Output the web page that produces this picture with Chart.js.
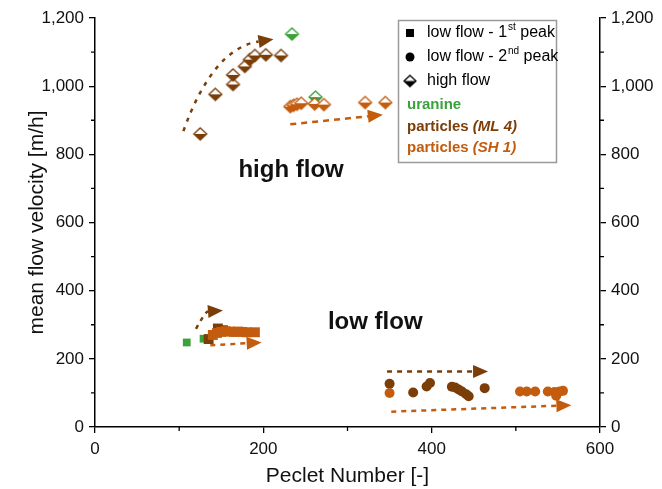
<!DOCTYPE html>
<html>
<head>
<meta charset="utf-8">
<script src="https://cdn.jsdelivr.net/npm/chart.js@4"></script>
<style>
  body { margin: 0; background: #fff; }
  canvas { display: block; }
</style>
</head>
<body>
<canvas id="c" width="662" height="489"></canvas>
<script>
// colours
const green = '#3aa23a';
const brown = '#7b3e08';
const orange = '#c45c0e';

// low flow, 1st peak (squares)
const lf1UraninePe = [109, 129];
const lf1UranineV = [248, 259];
const lf1ML4Pe = [135, 146, 152];
const lf1ML4V = [258, 289, 284];
const lf1SH1Pe = [140, 145, 150, 155, 160, 165, 170, 175, 180, 190];
const lf1SH1V = [270, 276, 279, 281, 280, 279, 280, 279, 278, 278];

// low flow, 2nd peak (circles)
const lf2ML4Pe = [350, 378, 394, 398, 424, 428, 432, 436, 441, 444, 463];
const lf2ML4V = [127, 101, 119, 129, 118, 116, 110, 104, 96, 90, 114];
const lf2SH1Pe = [350, 505, 513, 523, 538, 546, 548, 552, 556];
const lf2SH1V = [100, 104, 104, 104, 104, 103, 92, 104, 106];

// high flow (half filled diamonds)
const hfUraninePe = [234, 262];
const hfUranineV = [1153, 968];
const hfML4Pe = [125, 143, 164, 164, 178, 184, 190, 203, 221];
const hfML4V = [860, 976, 1005, 1033, 1058, 1078, 1090, 1092, 1090];
const hfSH1Pe = [232, 236, 240, 245, 261, 272, 321, 345];
const hfSH1V = [940, 944, 947, 950, 948, 946, 952, 952];

// trend arrows, in data units
const arrows = [
  {from: [105, 868], via: [140, 1110], to: [212, 1138], color: brown, dash: [4, 6]},
  {from: [232, 888], to: [342, 916], color: orange, dash: [6, 5]},
  {from: [120, 288], via: [131, 338], to: [152, 342], color: brown, dash: [4, 5]},
  {from: [137, 240], to: [198, 248], color: orange, dash: [5, 5]},
  {from: [347, 163], to: [467, 163], color: brown, dash: [5, 5]},
  {from: [352, 45], to: [566, 64], color: orange, dash: [5, 5]}
];

const notes = [
  {text: 'high flow', x: 233, y: 752},
  {text: 'low flow', x: 333, y: 307}
];

function pts(xs, ys) {
  return xs.map((x, i) => ({x: x, y: ys[i]}));
}

function halfDiamond(color, w, h) {
  const c = document.createElement('canvas');
  c.width = 2 * w + 4; c.height = 2 * h + 4;
  const g = c.getContext('2d');
  const cx = c.width / 2, cy = c.height / 2;
  const path = () => {
    g.beginPath();
    g.moveTo(cx, cy - h); g.lineTo(cx + w, cy); g.lineTo(cx, cy + h); g.lineTo(cx - w, cy);
    g.closePath();
  };
  path(); g.fillStyle = '#fff'; g.fill();
  g.beginPath();
  g.moveTo(cx - w, cy); g.lineTo(cx + w, cy); g.lineTo(cx, cy + h); g.closePath();
  g.fillStyle = color; g.fill();
  path(); g.strokeStyle = color; g.lineWidth = 1.3; g.stroke();
  return c;
}

function sq(label, data, color, r, order) {
  return {label, data, pointStyle: 'rect', pointRadius: r, backgroundColor: color, borderColor: color, borderWidth: 0, order};
}

const datasets = [
  sq('uranine 1st', pts(lf1UraninePe, lf1UranineV), green, 5.5, 5),
  sq('ML 4 1st', pts(lf1ML4Pe, lf1ML4V), brown, 7, 4),
  sq('SH 1 1st', pts(lf1SH1Pe, lf1SH1V), orange, 7, 3),
  {label: 'ML 4 2nd', data: pts(lf2ML4Pe, lf2ML4V), pointStyle: 'circle', pointRadius: 5, backgroundColor: brown, borderWidth: 0, order: 2},
  {label: 'SH 1 2nd', data: pts(lf2SH1Pe, lf2SH1V), pointStyle: 'circle', pointRadius: 5, backgroundColor: orange, borderWidth: 0, order: 1},
  {label: 'uranine high', data: pts(hfUraninePe, hfUranineV), pointStyle: halfDiamond(green, 6.5, 6), pointRadius: 6, order: 8},
  {label: 'ML 4 high', data: pts(hfML4Pe, hfML4V), pointStyle: halfDiamond(brown, 6.5, 6), pointRadius: 6, order: 7},
  {label: 'SH 1 high', data: pts(hfSH1Pe, hfSH1V), pointStyle: halfDiamond(orange, 6.5, 6), pointRadius: 6, order: 6}
];

const extras = {
  id: 'extras',
  afterDatasetsDraw(chart) {
    const ctx = chart.ctx, xs = chart.scales.x, ys = chart.scales.y;
    const px = p => [xs.getPixelForValue(p[0]), ys.getPixelForValue(p[1])];
    ctx.save();
    arrows.forEach(a => {
      const s = px(a.from), e = px(a.to);
      const c = a.via ? px(a.via) : s;
      let dx = e[0] - c[0], dy = e[1] - c[1];
      const len = Math.hypot(dx, dy); dx /= len; dy /= len;
      const L = 15, W = 6.5;
      const b = [e[0] - dx * L, e[1] - dy * L];
      ctx.strokeStyle = a.color; ctx.lineWidth = 2.5; ctx.setLineDash(a.dash);
      ctx.beginPath(); ctx.moveTo(s[0], s[1]);
      if (a.via) ctx.quadraticCurveTo(c[0], c[1], b[0], b[1]); else ctx.lineTo(b[0], b[1]);
      ctx.stroke();
      ctx.setLineDash([]);
      ctx.fillStyle = a.color;
      ctx.beginPath(); ctx.moveTo(e[0], e[1]);
      ctx.lineTo(b[0] - dy * W, b[1] + dx * W); ctx.lineTo(b[0] + dy * W, b[1] - dx * W);
      ctx.closePath(); ctx.fill();
    });
    ctx.fillStyle = '#111';
    ctx.font = 'bold 24px "Liberation Sans", Arial, sans-serif';
    ctx.textAlign = 'center'; ctx.textBaseline = 'middle';
    notes.forEach(n => { const p = px([n.x, n.y]); ctx.fillText(n.text, p[0], p[1]); });
    ctx.restore();
  },
  afterDraw(chart) {
    const ctx = chart.ctx, xs = chart.scales.x, ys = chart.scales.y, a = chart.chartArea;
    ctx.save();
    // minor ticks
    ctx.strokeStyle = '#000'; ctx.lineWidth = 1.3;
    ctx.beginPath();
    [100, 300, 500].forEach(v => { const x = xs.getPixelForValue(v); ctx.moveTo(x, a.bottom); ctx.lineTo(x, a.bottom + 4); });
    for (let v = 100; v < 1200; v += 200) {
      const y = ys.getPixelForValue(v);
      ctx.moveTo(a.left, y); ctx.lineTo(a.left - 4, y);
      ctx.moveTo(a.right, y); ctx.lineTo(a.right + 4, y);
    }
    ctx.stroke();

    // legend box
    ctx.strokeStyle = '#9a9a9a'; ctx.lineWidth = 1.5;
    ctx.strokeRect(398.5, 20.5, 158, 142);
    ctx.textBaseline = 'middle'; ctx.textAlign = 'left';
    const f = 'Liberation Sans, Arial, sans-serif';
    ctx.fillStyle = '#000';
    ctx.fillRect(406, 29, 8, 8);
    ctx.beginPath(); ctx.arc(410, 57, 4.5, 0, Math.PI * 2); ctx.fill();
    ctx.drawImage(halfDiamond('#000', 6, 5.5), 410 - 8, 81 - 7.5);
    const sup = (y, main, s, rest) => {
      ctx.font = '16px ' + f;
      ctx.fillText(main, 427, y);
      let x = 427 + ctx.measureText(main).width + 1;
      ctx.font = '10px ' + f;
      ctx.fillText(s, x, y - 6);
      x += ctx.measureText(s).width;
      ctx.font = '16px ' + f;
      ctx.fillText(rest, x, y);
    };
    sup(33, 'low flow - 1', 'st', ' peak');
    sup(57, 'low flow - 2', 'nd', ' peak');
    ctx.font = '16px ' + f;
    ctx.fillText('high flow', 427, 81);
    ctx.font = 'bold 15px ' + f;
    ctx.fillStyle = green;
    ctx.fillText('uranine', 407, 105);
    const part = (y, color, tag) => {
      ctx.fillStyle = color;
      ctx.font = 'bold 15px ' + f;
      ctx.fillText('particles ', 407, y);
      const w = ctx.measureText('particles ').width;
      ctx.font = 'italic bold 15px ' + f;
      ctx.fillText(tag, 407 + w, y);
    };
    part(127, brown, '(ML 4)');
    part(148, orange, '(SH 1)');
    ctx.restore();
  }
};

const tickFont = {family: 'Liberation Sans, Arial, sans-serif', size: 17};
const titleFont = {family: 'Liberation Sans, Arial, sans-serif', size: 21};
const yTick = v => Number(v).toLocaleString('en-US');

new Chart(document.getElementById('c').getContext('2d'), {
  type: 'scatter',
  data: {datasets: datasets},
  options: {
    responsive: false,
    animation: false,
    devicePixelRatio: 1,
    layout: {padding: {top: 18, left: 0, right: 0, bottom: 0}},
    plugins: {legend: {display: false}, tooltip: {enabled: false}},
    scales: {
      x: {
        type: 'linear', min: 0, max: 600,
        afterFit: s => { s.height = 62; },
        ticks: {stepSize: 200, color: '#111', font: tickFont, padding: 6},
        grid: {drawOnChartArea: false, tickLength: 6, color: '#000', lineWidth: 1.3},
        border: {color: '#000', width: 1.5},
        title: {display: true, text: 'Peclet Number [-]', color: '#111', font: titleFont, padding: {top: 0, bottom: 0}}
      },
      y: {
        type: 'linear', position: 'left', min: 0, max: 1200,
        afterFit: s => { s.width = 95; },
        ticks: {stepSize: 200, color: '#111', font: tickFont, padding: 5, callback: yTick},
        grid: {drawOnChartArea: false, tickLength: 6, color: '#000', lineWidth: 1.3},
        border: {color: '#000', width: 1.5},
        title: {display: true, text: 'mean flow velocity [m/h]', color: '#111', font: titleFont, padding: {top: 25, bottom: 0}}
      },
      y2: {
        type: 'linear', position: 'right', min: 0, max: 1200,
        afterFit: s => { s.width = 62; },
        ticks: {stepSize: 200, color: '#111', font: tickFont, padding: 5, callback: yTick},
        grid: {drawOnChartArea: false, tickLength: 6, color: '#000', lineWidth: 1.3},
        border: {color: '#000', width: 1.5}
      }
    }
  },
  plugins: [extras]
});
</script>
</body>
</html>
